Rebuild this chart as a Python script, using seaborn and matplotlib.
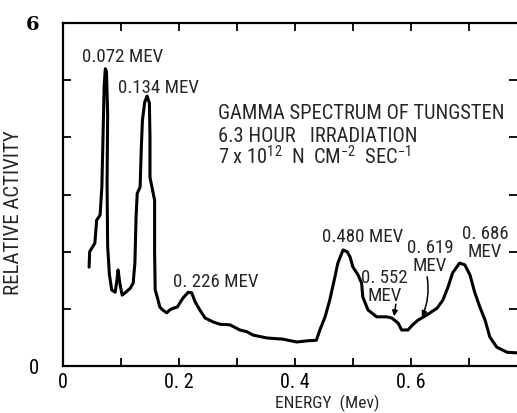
import matplotlib
matplotlib.use("Agg")
import matplotlib.pyplot as plt
from matplotlib import font_manager
import seaborn as sns
import pandas as pd

# ---- data ----
energy = [0.045, 0.046, 0.055, 0.058, 0.064, 0.067, 0.069, 0.071, 0.073, 0.075,
          0.077, 0.076, 0.077, 0.080, 0.084, 0.090, 0.093, 0.095, 0.098, 0.102,
          0.107, 0.116, 0.121, 0.124, 0.126, 0.128, 0.133, 0.135, 0.137, 0.141,
          0.145, 0.149, 0.150, 0.150, 0.155, 0.158, 0.158, 0.159, 0.163, 0.167,
          0.172, 0.179, 0.184, 0.190, 0.197, 0.207, 0.216, 0.222, 0.228, 0.236,
          0.245, 0.259, 0.271, 0.288, 0.305, 0.317, 0.328, 0.352, 0.379, 0.403,
          0.421, 0.437, 0.443, 0.452, 0.460, 0.469, 0.474, 0.483, 0.490, 0.495,
          0.500, 0.509, 0.515, 0.517, 0.526, 0.541, 0.558, 0.567, 0.578, 0.584,
          0.595, 0.603, 0.612, 0.627, 0.645, 0.655, 0.664, 0.672, 0.684, 0.693,
          0.702, 0.710, 0.719, 0.728, 0.736, 0.748, 0.766, 0.783]
activity = [1.73, 2.00, 2.15, 2.55, 2.64, 3.13, 4.00, 4.90, 5.20, 5.15,
            4.40, 3.20, 2.10, 1.60, 1.33, 1.29, 1.50, 1.68, 1.45, 1.24,
            1.28, 1.36, 1.45, 1.80, 2.60, 3.02, 3.13, 3.80, 4.30, 4.62,
            4.72, 4.60, 4.00, 3.30, 3.05, 2.90, 2.00, 1.33, 1.19, 1.03,
            0.98, 0.93, 0.98, 1.01, 1.03, 1.19, 1.29, 1.28, 1.12, 0.98,
            0.84, 0.77, 0.73, 0.72, 0.63, 0.60, 0.54, 0.49, 0.47, 0.42,
            0.44, 0.45, 0.63, 0.86, 1.15, 1.56, 1.80, 2.03, 2.00, 1.91,
            1.73, 1.59, 1.45, 1.21, 0.98, 0.86, 0.86, 0.84, 0.75, 0.63,
            0.63, 0.72, 0.80, 0.89, 1.01, 1.15, 1.38, 1.63, 1.80, 1.77,
            1.59, 1.29, 1.03, 0.80, 0.51, 0.33, 0.24, 0.23]

x_ticks = [0, 0.1, 0.2, 0.3, 0.4, 0.5, 0.6, 0.7]
x_tick_labels = ["0", "", "0. 2", "", "0. 4", "", "0. 6", ""]
y_ticks = [0, 1, 2, 3, 4, 5, 6]
y_tick_labels = ["0", "", "", "", "", "", "6"]

peak_labels = ["0.072 MEV", "0.134 MEV", "0. 226 MEV", "0.480 MEV",
               "0. 552\nMEV", "0. 619\nMEV", "0. 686\nMEV"]
title_lines = ["GAMMA SPECTRUM OF TUNGSTEN",
               "6.3 HOUR   IRRADIATION",
               r"7 x 10$^{12}$  N  CM$^{-2}$  SEC$^{-1}$"]

# ---- fonts ----
sns.set_style("ticks")
available = {f.name for f in font_manager.fontManager.ttflist}
cond = None
for cand in ["Liberation Sans Narrow", "Roboto Condensed", "Open Sans Condensed", "DejaVu Sans"]:
    if cand in available:
        cond = cand
        break
plt.rcParams["font.family"] = [cond, "DejaVu Sans"]
plt.rcParams["mathtext.default"] = "regular"
plt.rcParams["mathtext.fontset"] = "custom"
plt.rcParams["mathtext.rm"] = cond

df = pd.DataFrame({"energy": energy, "activity": activity})

fig = plt.figure(figsize=(5.17, 4.13), dpi=100)
ax = fig.add_axes([63 / 517, 1 - 366 / 413, 1 - 63 / 517, (366 - 23) / 413])

sns.lineplot(data=df, x="energy", y="activity", sort=False, estimator=None,
             color="black", linewidth=2.2, ax=ax)

ax.set_xlim(0, 0.783)
ax.set_ylim(0, 6)
ax.set_xticks(x_ticks)
ax.set_xticklabels(x_tick_labels, fontsize=14.5)
ax.set_yticks(y_ticks)
ax.set_yticklabels(y_tick_labels, fontsize=15)
ax.get_yticklabels()[-1].set_family("DejaVu Serif")
ax.get_yticklabels()[-1].set_fontweight("bold")
ax.get_yticklabels()[-1].set_fontsize(14)
ax.tick_params(direction="in", length=6, width=1.3, top=True, right=True,
               colors="black")
ax.tick_params(axis="y", pad=17)
ax.tick_params(axis="x", pad=5)
for side in ["left", "bottom", "top"]:
    ax.spines[side].set_linewidth(1.6)
    ax.spines[side].set_color("black")
ax.spines["right"].set_visible(False)

ax.set_xlabel("ENERGY  (Mev)", fontsize=12.5)
ax.set_ylabel("RELATIVE ACTIVITY", fontsize=15)
ax.xaxis.set_label_coords(0.581, -0.084)
ax.yaxis.set_label_coords(-0.088, 0.446)

fs = 13.6
ax.text(0.102, 5.4, peak_labels[0], fontsize=fs, ha="center", va="center")
ax.text(0.165, 4.86, peak_labels[1], fontsize=fs, ha="center", va="center")
ax.text(0.19, 1.47, peak_labels[2], fontsize=fs, ha="left", va="center")
ax.text(0.516, 2.26, peak_labels[3], fontsize=fs, ha="center", va="center")
ax.text(0.555, 1.39, peak_labels[4], fontsize=fs, ha="center", va="center",
        linespacing=1.0)
ax.text(0.633, 1.90, peak_labels[5], fontsize=fs, ha="center", va="center",
        linespacing=1.0)
ax.text(0.728, 2.16, peak_labels[6], fontsize=fs, ha="center", va="center",
        linespacing=1.0)

for i, (yy, txt) in enumerate(zip([4.42, 4.02, 3.65], title_lines)):
    ax.text(0.267, yy, txt, fontsize=14.8, ha="left", va="center")

ax.annotate("", xy=(0.571, 0.87), xytext=(0.574, 1.08),
            arrowprops=dict(arrowstyle="-|>", color="black", lw=1.1,
                            shrinkA=0, shrinkB=0, mutation_scale=8))
ax.annotate("", xy=(0.619, 0.86), xytext=(0.628, 1.56),
            arrowprops=dict(arrowstyle="-|>", color="black", lw=1.1,
                            shrinkA=0, shrinkB=0, mutation_scale=8,
                            connectionstyle="arc3,rad=-0.15"))

fig.savefig("out.png", dpi=100)
